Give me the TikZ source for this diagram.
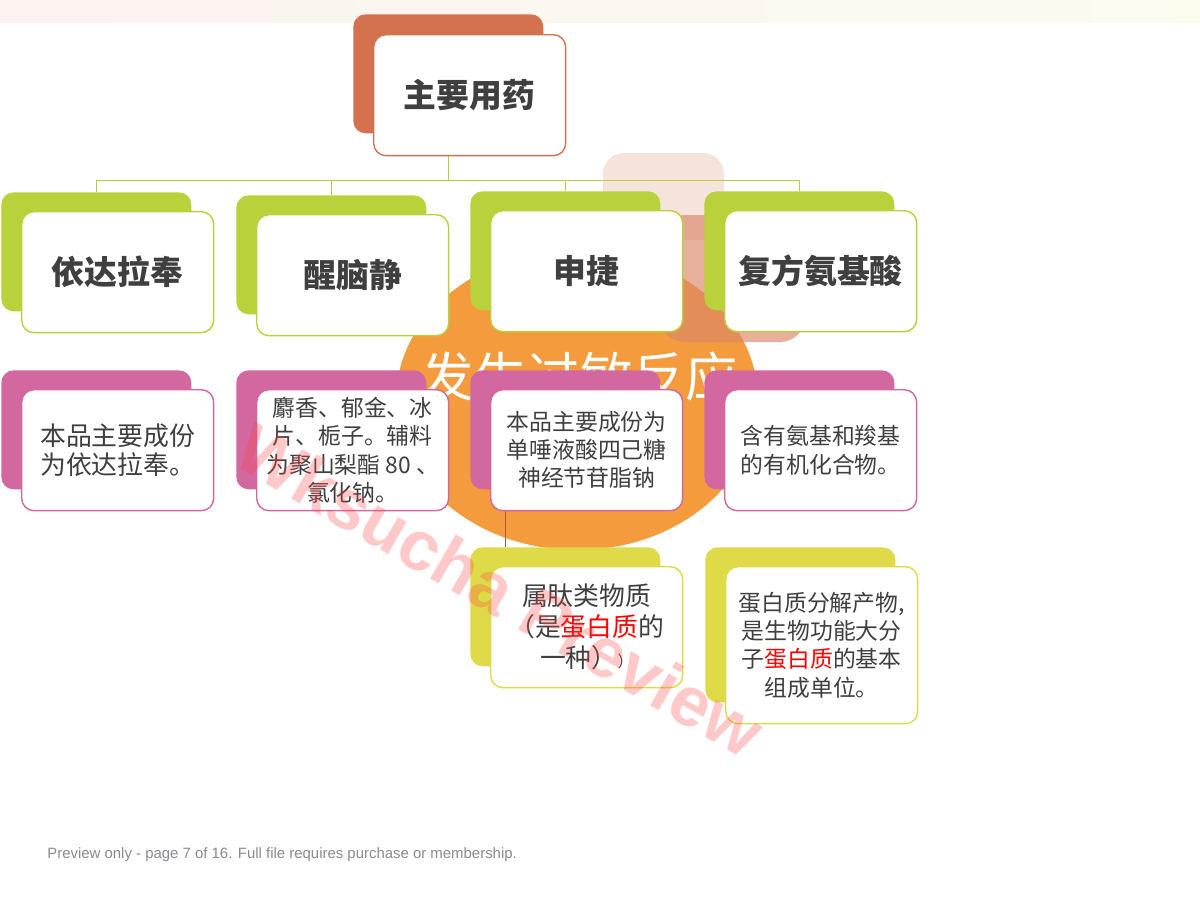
\documentclass[tikz,border=0pt]{standalone}
\usepackage{fontspec}
\setmainfont{Liberation Sans}
\newfontfamily\cjk{Noto Sans CJK SC}
\usepackage{tikz}
\usetikzlibrary{calc}
\definecolor{topred}{HTML}{D4714F}
\definecolor{leaf}{HTML}{B9D13A}
\definecolor{rose}{HTML}{D3679F}
\definecolor{lemon}{HTML}{DEDA48}
\definecolor{linkgreen}{HTML}{B5CF3E}
\definecolor{blob}{HTML}{F39B3D}
\definecolor{txtgray}{HTML}{3F3F3F}
\definecolor{footgray}{HTML}{8A8A90}
\pgfdeclarelayer{bg}
\pgfdeclarelayer{lines}
\pgfsetlayers{bg,lines,main}

\begin{document}
\begin{tikzpicture}[line cap=round,line join=round,x=0.02cm,y=-0.02cm,
  back/.style={rounded corners=7pt,minimum width=3.8cm,minimum height=2.38cm,inner sep=0pt,anchor=north west},
  front/.style={draw,line width=0.8pt,fill=white,rounded corners=7pt,minimum width=3.84cm,minimum height=2.42cm,inner sep=0pt,anchor=north west,align=center,text=txtgray},
  title/.style={font=\cjk\bfseries\fontsize{18.7}{22}\selectfont},
  body/.style={font=\cjk\fontsize{13}{16}\selectfont},
  bigbody/.style={font=\cjk\fontsize{14.7}{17}\selectfont},
  link/.style={draw=linkgreen,line width=0.8pt}]
  \useasboundingbox (0,0) rectangle (1200,900);

  \begin{pgfonlayer}{bg}
  \fill[white] (0,0) rectangle (1200,900);
  \shade[left color=topred!14,right color=lemon!14,opacity=0.6] (0,0) rectangle (1200,22);
  \fill[blob] (577,400) ellipse [x radius=181,y radius=150];
  \fill[topred!20,rounded corners=12pt] (603,153) rectangle (724,240);
  \fill[topred!85,opacity=0.65,rounded corners=14pt] (660,215) rectangle (805,342);
  \node[text=white,font=\cjk\fontsize{30}{34}\selectfont] (allergy) at (580,376) {发生过敏反应};
  \end{pgfonlayer}

  % top box
  \node[back,fill=topred] (drugb) at (353,14) {};
  \node[front,draw=topred,title] (drug) at (373,34) {主要用药};

  % row 1: names
  \foreach \i/\x/\y/\t in {1/1/192/依达拉奉,2/236/195/醒脑静,3/470/191/申捷,4/704/191/复方氨基酸}{
    \node[back,fill=leaf] (nameb\i) at (\x,\y) {};
    \node[front,draw=leaf,title] (name\i) at (\x+20,\y+19) {\t};
  }

  % row 2: components
  \foreach \i/\x in {1/1,2/236,3/470,4/704}{
    \node[back,fill=rose] (partb\i) at (\x,370) {};
  }
  \node[front,draw=rose,bigbody] (part1) at (21,389) {本品主要成份\\为依达拉奉。};
  \node[front,draw=rose,body] (part2) at (256,389) {麝香、郁金、冰\\片、栀子。辅料\\为聚山梨酯 80 、\\氯化钠。};
  \node[front,draw=rose,body] (part3) at (490,389) {本品主要成份为\\单唾液酸四己糖\\神经节苷脂钠};
  \node[front,draw=rose,body] (part4) at (724,389) {含有氨基和羧基\\的有机化合物。};

  % row 3: class
  \node[back,fill=lemon] (kindb3) at (470,547) {};
  \node[front,draw=lemon,font=\cjk\fontsize{14.7}{17.6}\selectfont] (kind3) at (490,566) {属肽类物质\\（是\textcolor{red}{蛋白质}的\\一种）{\fontsize{9}{9}\selectfont ）}};
  \node[back,fill=lemon,minimum height=3.1cm] (kindb4) at (705,547) {};
  \node[front,draw=lemon,body,minimum height=3.14cm] (kind4) at (725,566) {蛋白质分解产物,\\是生物功能大分\\子\textcolor{red}{蛋白质}的基本\\组成单位。};

  \begin{pgfonlayer}{lines}
  \foreach \i in {1,...,4}
    \draw[link] (drugb.south) -- ++(0,47) -| (nameb\i.north);
  \draw[topred!80!black,line width=0.4pt] ($(part3.south west)+(15,0)$) -- ($(kindb3.north west)+(35,0)$);
  \end{pgfonlayer}

  % watermark and footer
  \node[rotate=-30,text=red!75,opacity=0.28,font=\bfseries\fontsize{40}{44}\selectfont] (mark) at (500,590) {Wksucha Preview};
  \node[anchor=west,text=footgray,font=\fontsize{8.5}{10}\selectfont,inner sep=0pt] (note) at (47,855) {Preview only - page 7 of 16. Full file requires purchase or membership.};
\end{tikzpicture}
\end{document}
